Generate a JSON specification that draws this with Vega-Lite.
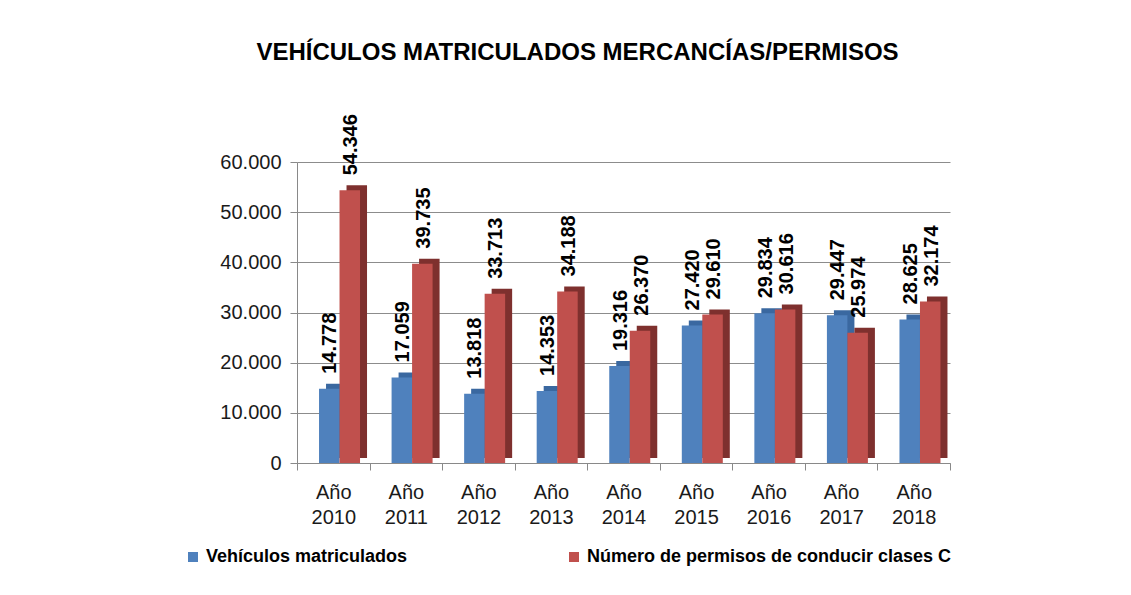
{
  "$schema": "https://vega.github.io/schema/vega-lite/v6.json",
  "width": 653,
  "height": 301,
  "autosize": {"type": "none"},
  "padding": {"left": 297, "top": 162, "right": 181, "bottom": 132},
  "background": "white",
  "config": {"view": {"stroke": null}, "font": "Liberation Sans"},
  "title": {"text": "VEHÍCULOS MATRICULADOS MERCANCÍAS/PERMISOS", "font": "Liberation Sans", "fontSize": 24, "fontWeight": "bold", "color": "#000000", "anchor": "middle", "dx": -46, "offset": 49},
  "data": {"values": [
    {"anio": "Año 2010", "serie": "Vehículos matriculados", "valor": 14778},
    {"anio": "Año 2011", "serie": "Vehículos matriculados", "valor": 17059},
    {"anio": "Año 2012", "serie": "Vehículos matriculados", "valor": 13818},
    {"anio": "Año 2013", "serie": "Vehículos matriculados", "valor": 14353},
    {"anio": "Año 2014", "serie": "Vehículos matriculados", "valor": 19316},
    {"anio": "Año 2015", "serie": "Vehículos matriculados", "valor": 27420},
    {"anio": "Año 2016", "serie": "Vehículos matriculados", "valor": 29834},
    {"anio": "Año 2017", "serie": "Vehículos matriculados", "valor": 29447},
    {"anio": "Año 2018", "serie": "Vehículos matriculados", "valor": 28625},
    {"anio": "Año 2010", "serie": "Número de permisos de conducir clases C", "valor": 54346},
    {"anio": "Año 2011", "serie": "Número de permisos de conducir clases C", "valor": 39735},
    {"anio": "Año 2012", "serie": "Número de permisos de conducir clases C", "valor": 33713},
    {"anio": "Año 2013", "serie": "Número de permisos de conducir clases C", "valor": 34188},
    {"anio": "Año 2014", "serie": "Número de permisos de conducir clases C", "valor": 26370},
    {"anio": "Año 2015", "serie": "Número de permisos de conducir clases C", "valor": 29610},
    {"anio": "Año 2016", "serie": "Número de permisos de conducir clases C", "valor": 30616},
    {"anio": "Año 2017", "serie": "Número de permisos de conducir clases C", "valor": 25974},
    {"anio": "Año 2018", "serie": "Número de permisos de conducir clases C", "valor": 32174}
  ]},
  "transform": [{"calculate": "replace(format(datum.valor, ',d'), ',', '.')", "as": "etiqueta"}],
  "encoding": {
    "x": {
      "field": "anio", "type": "nominal", "sort": null,
      "scale": {"paddingInner": 0, "paddingOuter": 0},
      "axis": {
        "title": null, "labelAngle": 0, "labelExpr": "split(datum.label, ' ')",
        "labelFontSize": 20, "labelLineHeight": 25, "labelPadding": 12, "labelColor": "#1a1a1a",
        "labelFont": "Liberation Sans",
        "tickBand": "extent", "tickSize": 7, "tickColor": "#898989", "domainColor": "#898989", "grid": false
      }
    },
    "y": {
      "field": "valor", "type": "quantitative",
      "scale": {"domain": [0, 60000], "nice": false},
      "axis": {
        "title": null, "values": [0, 10000, 20000, 30000, 40000, 50000, 60000],
        "labelExpr": "replace(format(datum.value, ','), ',', '.')",
        "labelFontSize": 20, "labelPadding": 9, "labelColor": "#1a1a1a", "labelFont": "Liberation Sans",
        "tickSize": 7, "tickColor": "#898989", "domainColor": "#898989",
        "gridColor": "#8c8c8c", "gridWidth": 1
      }
    }
  },
  "layer": [
    {
      "transform": [{"filter": "datum.serie == 'Vehículos matriculados'"}],
      "mark": {"type": "bar", "width": 20.5, "xOffset": 3, "yOffset": -5, "y2Offset": -5, "color": "#3A68A0"}
    },
    {
      "transform": [{"filter": "datum.serie == 'Vehículos matriculados'"}],
      "mark": {"type": "bar", "width": 20.5, "xOffset": -4},
      "encoding": {
        "color": {
          "field": "serie", "type": "nominal",
          "sort": ["Vehículos matriculados", "Número de permisos de conducir clases C"],
          "scale": {"domain": ["Vehículos matriculados", "Número de permisos de conducir clases C"], "range": ["#4F81BD", "#C0504D"]},
          "legend": {
            "title": null, "orient": "none", "legendX": -113, "legendY": 386, "direction": "horizontal",
            "columns": 2, "columnPadding": 157, "symbolType": "square", "symbolSize": 100,
            "symbolStrokeWidth": 0, "labelFontSize": 18, "labelFontWeight": "bold", "labelColor": "#000000",
            "labelFont": "Liberation Sans", "labelOffset": 4, "labelLimit": 500
          }
        }
      }
    },
    {
      "transform": [{"filter": "datum.serie != 'Vehículos matriculados'"}],
      "mark": {"type": "bar", "width": 20.5, "xOffset": 23.5, "yOffset": -5, "y2Offset": -5, "color": "#7E302E"}
    },
    {
      "transform": [{"filter": "datum.serie != 'Vehículos matriculados'"}],
      "mark": {"type": "bar", "width": 20.5, "xOffset": 16.5},
      "encoding": {
        "color": {"field": "serie", "type": "nominal", "sort": ["Vehículos matriculados", "Número de permisos de conducir clases C"]}
      }
    },
    {
      "transform": [{"filter": "datum.serie == 'Vehículos matriculados'"}],
      "mark": {"type": "text", "angle": -90, "align": "left", "baseline": "middle", "dx": 15, "dy": -3, "fontSize": 20, "fontWeight": "bold", "font": "Liberation Sans", "color": "#000000"},
      "encoding": {"text": {"field": "etiqueta", "type": "nominal"}}
    },
    {
      "transform": [{"filter": "datum.serie != 'Vehículos matriculados'"}],
      "mark": {"type": "text", "angle": -90, "align": "left", "baseline": "middle", "dx": 15, "dy": 18, "fontSize": 20, "fontWeight": "bold", "font": "Liberation Sans", "color": "#000000"},
      "encoding": {"text": {"field": "etiqueta", "type": "nominal"}}
    }
  ]
}
